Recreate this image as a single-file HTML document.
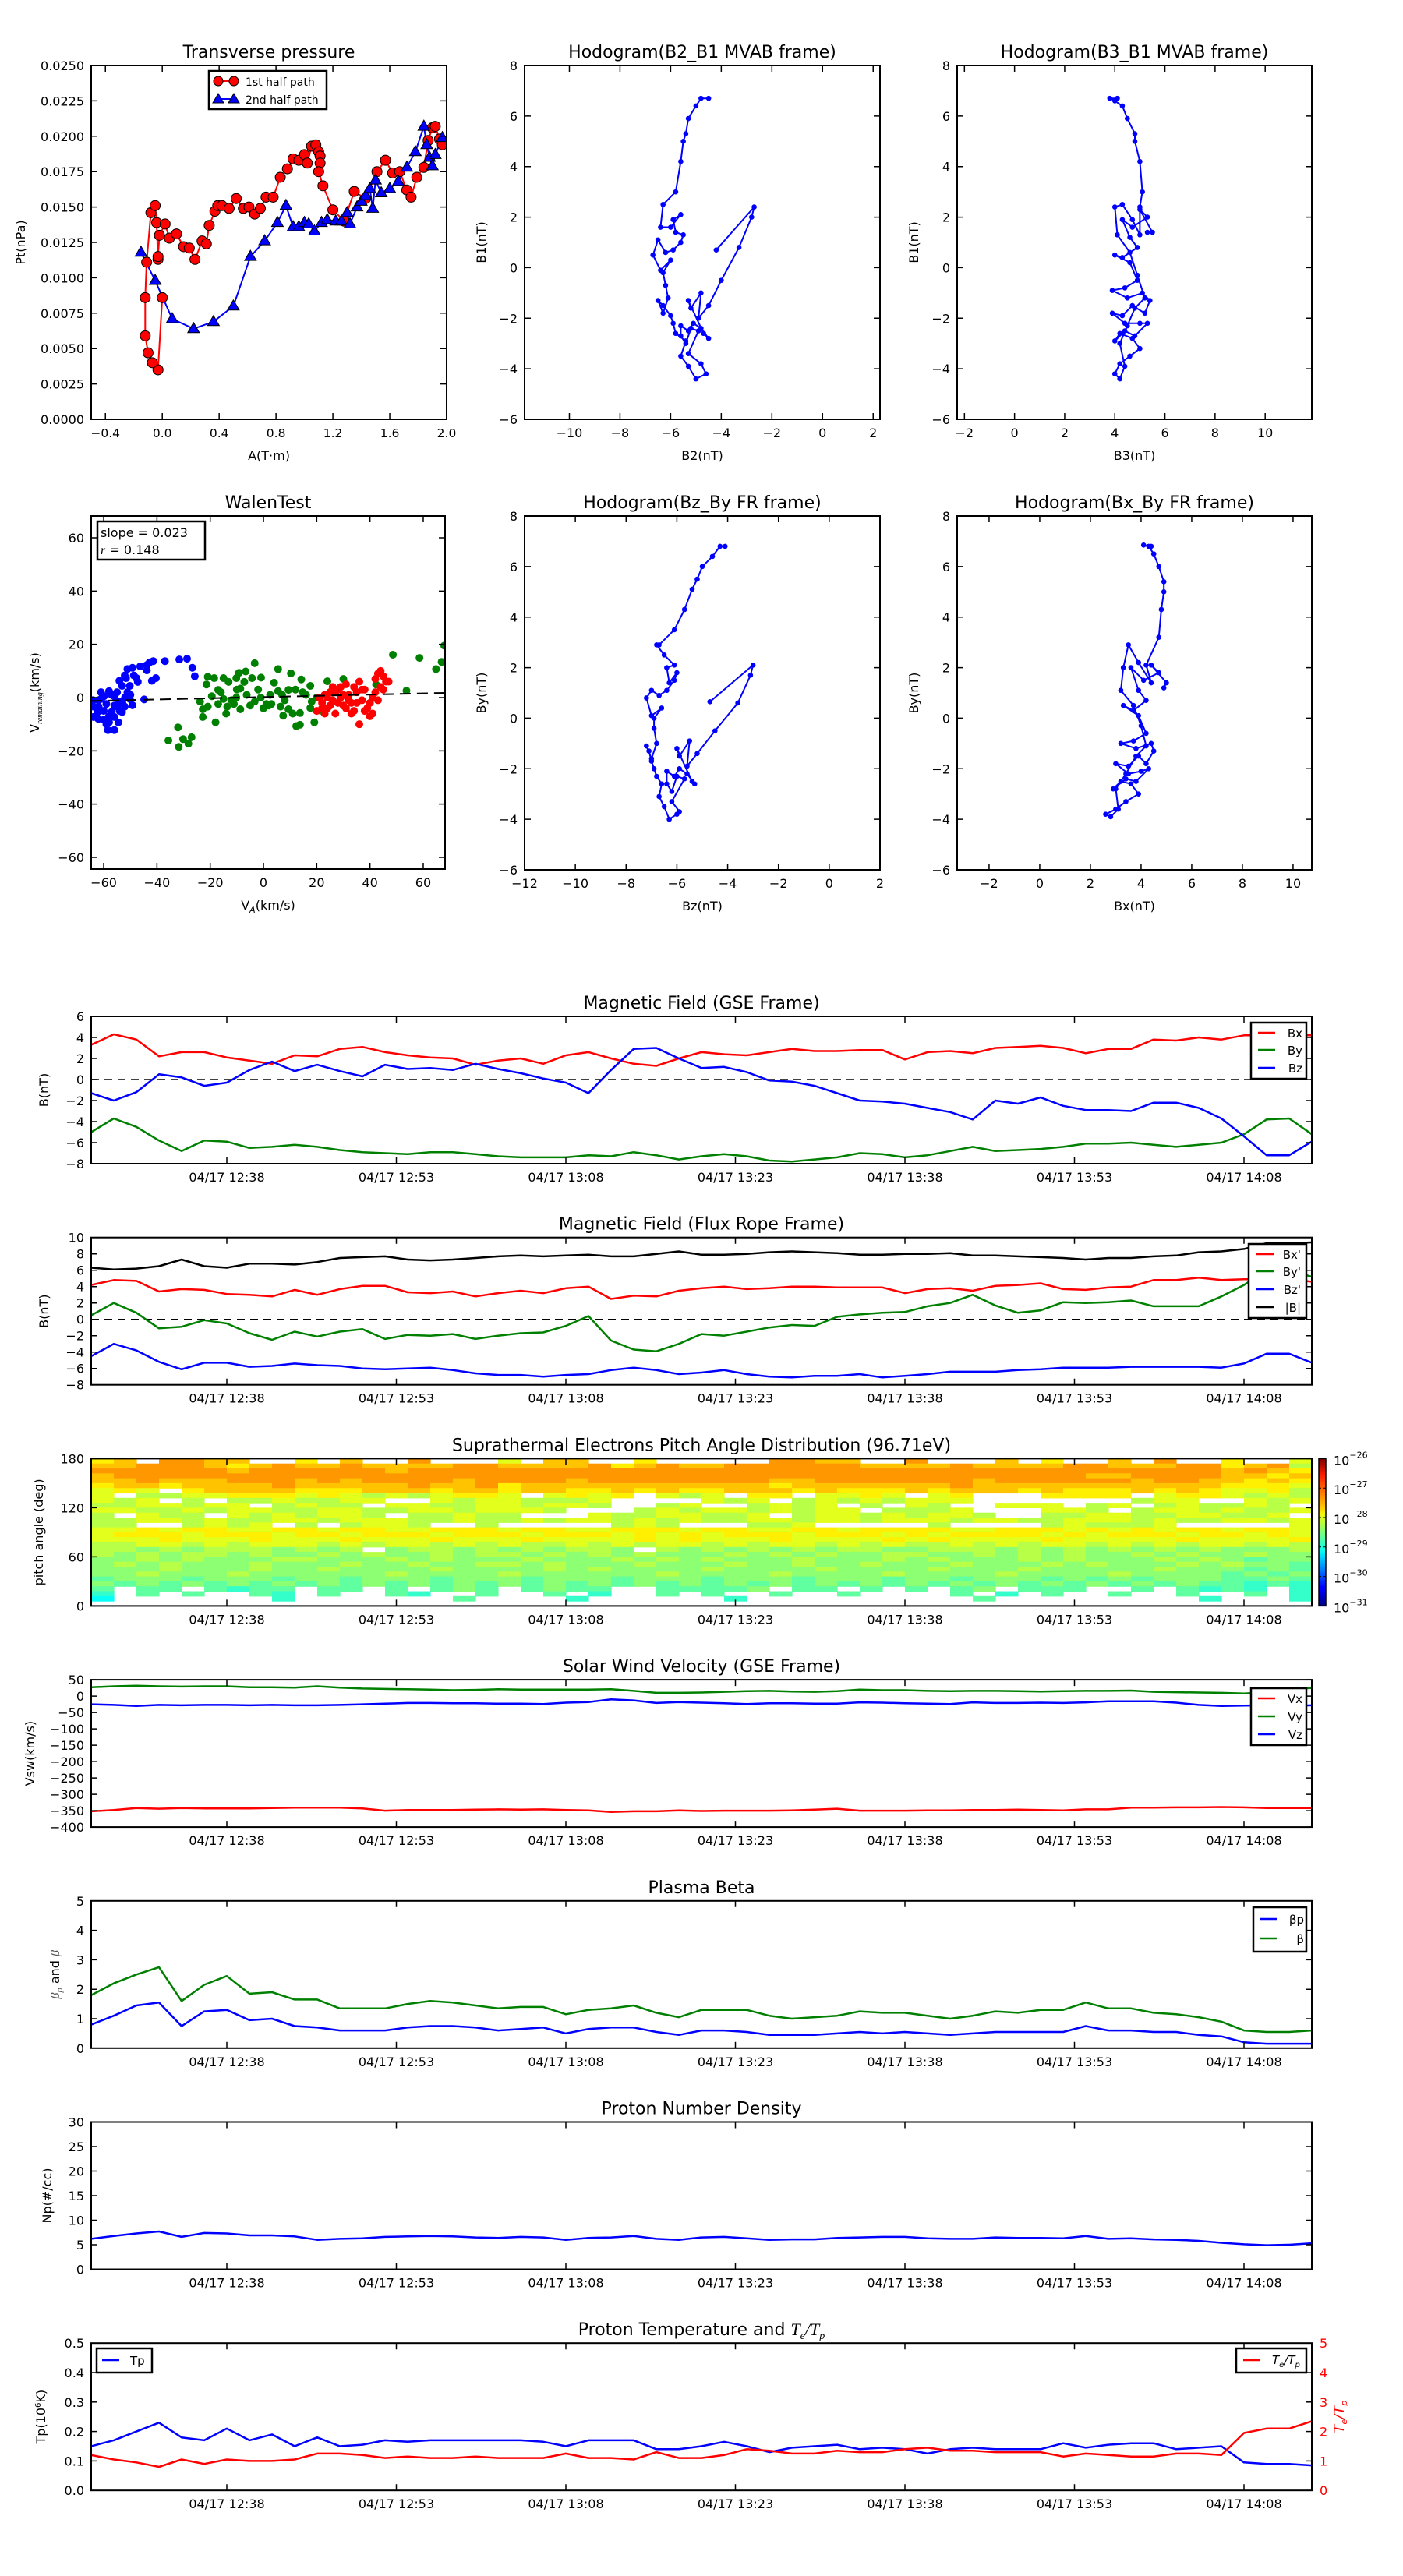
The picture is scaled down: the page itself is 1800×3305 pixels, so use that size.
<!DOCTYPE html>
<html><head><meta charset="utf-8"><title>Flux rope analysis</title>
<style>
html,body{margin:0;padding:0;background:#fff;}
svg text{font-family:"DejaVu Sans","Liberation Sans",sans-serif;fill:#000;}
</style></head>
<body>
<svg id="fig" xmlns="http://www.w3.org/2000/svg" width="1800" height="3300" viewBox="0 0 1800 3300">
<rect x="0" y="0" width="1800" height="3300" fill="#fff"/>
<defs>
<linearGradient id="jetgrad" x1="0" y1="1" x2="0" y2="0">
<stop offset="0" stop-color="#00007f"/><stop offset="0.11" stop-color="#0000ff"/><stop offset="0.125" stop-color="#0000ff"/>
<stop offset="0.34" stop-color="#00dcff"/><stop offset="0.375" stop-color="#07ffef"/><stop offset="0.5" stop-color="#7dff7a"/>
<stop offset="0.625" stop-color="#f4f802"/><stop offset="0.66" stop-color="#ffcf00"/><stop offset="0.89" stop-color="#ff1a00"/><stop offset="1" stop-color="#7f0000"/>
</linearGradient>
</defs>
</svg>
<script>
// ---------------- data ----------------
const ptRedA = [0.00,-0.03,-0.07,-0.10,-0.12,-0.12,-0.11,-0.08,-0.05,-0.04,-0.03,-0.03,-0.02,0.02,0.05,0.10,0.15,0.19,0.23,0.28,0.31,0.33,0.37,0.39,0.42,0.47,0.52,0.57,0.61,0.65,0.69,0.73,0.78,0.83,0.88,0.92,0.96,1.00,1.02,1.05,1.08,1.10,1.11,1.11,1.10,1.13,1.20,1.28,1.35,1.43,1.51,1.57,1.62,1.67,1.72,1.75,1.79,1.84,1.87,1.90,1.92,1.95,1.97];
const ptRedP = [0.0086,0.0035,0.0040,0.0047,0.0059,0.0086,0.0111,0.0146,0.0151,0.0139,0.0113,0.0115,0.0130,0.0138,0.0128,0.0131,0.0122,0.0121,0.0113,0.0126,0.0124,0.0137,0.0147,0.0151,0.0151,0.0149,0.0156,0.0149,0.0150,0.0145,0.0149,0.0157,0.0157,0.0171,0.0177,0.0184,0.0183,0.0187,0.0181,0.0193,0.0194,0.0189,0.0186,0.0181,0.0175,0.0165,0.0148,0.0140,0.0161,0.0156,0.0175,0.0183,0.0174,0.0175,0.0162,0.0157,0.0171,0.0178,0.0197,0.0206,0.0207,0.0198,0.0194];
const ptBlueA = [-0.15,-0.05,0.07,0.22,0.36,0.50,0.62,0.72,0.81,0.87,0.92,0.96,1.00,1.03,1.07,1.12,1.16,1.22,1.26,1.30,1.32,1.37,1.40,1.43,1.46,1.48,1.50,1.54,1.60,1.66,1.72,1.78,1.84,1.86,1.88,1.90,1.92,1.97];
const ptBlueP = [0.0118,0.0098,0.0071,0.0064,0.0069,0.0080,0.0115,0.0126,0.0139,0.0151,0.0136,0.0136,0.0139,0.0138,0.0133,0.0139,0.0141,0.0140,0.0140,0.0146,0.0138,0.0150,0.0154,0.0158,0.0163,0.0149,0.0169,0.0160,0.0163,0.0168,0.0178,0.0189,0.0207,0.0194,0.0185,0.0179,0.0187,0.0199];

const hodo1X = [-4.2,-2.7,-2.8,-3.3,-4.0,-4.5,-4.9,-4.8,-5.2,-5.3,-4.7,-4.5,-4.8,-5.1,-5.3,-5.6,-5.6,-5.4,-5.2,-4.9,-5.3,-4.8,-4.6,-5.0,-5.3,-5.6,-5.4,-5.8,-5.9,-6.0,-6.3,-6.5,-6.3,-6.1,-6.2,-6.3,-6.0,-6.4,-6.7,-6.5,-6.2,-5.9,-5.6,-5.5,-5.8,-5.9,-5.6,-6.0,-6.4,-6.3,-5.8,-5.6,-5.5,-5.4,-5.3,-5.0,-4.8,-4.5];
const hodo1Y = [0.7,2.4,2.0,0.8,-0.5,-1.5,-2.0,-1.0,-1.6,-1.3,-2.6,-2.8,-2.4,-2.2,-2.5,-2.3,-2.7,-3.0,-2.4,-2.5,-3.4,-3.8,-4.2,-4.4,-3.9,-3.5,-2.9,-2.6,-2.2,-1.9,-1.5,-1.3,-1.8,-1.2,-0.7,-0.2,0.3,-0.1,0.5,1.1,0.6,0.7,1.0,1.3,1.4,1.9,2.1,1.6,1.6,2.5,3.0,4.2,5.0,5.3,5.9,6.4,6.7,6.7];
const hodo3X = [5.3,5.5,5.0,5.3,4.7,4.3,4.6,4.9,4.3,4.0,4.6,4.9,4.4,3.9,4.5,5.1,5.4,5.2,4.7,4.3,3.9,4.4,5.0,5.3,4.8,4.4,4.0,4.2,4.7,5.0,4.6,4.2,4.0,4.2,4.4,4.2,4.5,4.8,5.2,4.9,4.6,4.1,4.0,4.3,4.7,5.0,5.0,5.1,5.0,4.8,4.8,4.5,4.3,4.0,3.8,4.1];
const hodo3Y = [1.4,1.4,2.3,2.0,1.6,1.9,1.2,0.8,0.4,0.5,0.2,-0.5,-0.8,-0.9,-1.2,-1.0,-1.3,-1.8,-1.5,-1.9,-1.8,-2.2,-2.2,-2.2,-2.7,-2.5,-2.9,-2.6,-2.8,-3.2,-3.5,-3.8,-4.2,-4.4,-3.9,-3.0,-2.3,-1.6,-1.2,-0.3,0.6,1.3,2.4,2.5,1.9,1.3,2.4,3.0,4.2,5.0,5.3,5.9,6.4,6.6,6.7,6.7];
const hodo2X = [-4.7,-3.0,-3.1,-3.6,-4.5,-5.2,-5.6,-5.5,-5.9,-6.0,-5.4,-5.3,-5.6,-5.9,-6.1,-6.4,-6.4,-6.2,-6.0,-5.7,-6.2,-5.9,-6.0,-6.3,-6.5,-6.7,-6.6,-6.8,-6.9,-7.0,-7.1,-7.2,-7.0,-6.8,-6.9,-6.9,-6.6,-7.0,-7.2,-7.0,-6.7,-6.4,-6.1,-6.0,-6.3,-6.4,-6.1,-6.5,-6.8,-6.7,-6.1,-5.7,-5.4,-5.2,-5.0,-4.6,-4.3,-4.1];
const hodo2Y = [0.65,2.1,1.7,0.6,-0.5,-1.4,-1.9,-0.9,-1.5,-1.2,-2.5,-2.6,-2.2,-2.0,-2.3,-2.1,-2.6,-2.9,-2.3,-2.4,-3.3,-3.7,-3.8,-4.0,-3.5,-3.1,-2.6,-2.3,-2.0,-1.7,-1.3,-1.1,-1.6,-1.0,-0.4,0.0,0.4,0.1,0.8,1.1,0.9,1.1,1.5,1.8,1.4,2.0,2.1,2.5,2.9,2.9,3.5,4.3,5.1,5.5,6.0,6.4,6.8,6.8];
const hodo4X = [4.9,5.0,4.4,4.7,4.1,3.6,3.9,4.2,3.7,3.3,3.9,4.2,3.7,3.2,3.8,4.4,4.5,4.2,3.9,3.5,3.0,3.5,4.0,4.3,3.8,3.4,2.9,3.2,3.6,3.9,3.4,3.0,2.6,2.8,3.1,3.0,3.4,3.8,4.2,4.0,3.7,3.2,3.3,3.5,3.9,4.4,4.2,4.7,4.8,4.9,4.9,4.7,4.5,4.3,4.1,4.4];
const hodo4Y = [1.2,1.4,2.1,1.8,1.5,2.0,1.1,0.7,0.3,0.5,0.1,-0.6,-0.9,-1.0,-1.2,-1.0,-1.3,-1.8,-1.5,-1.9,-1.8,-2.2,-2.1,-2.0,-2.5,-2.4,-2.8,-2.5,-2.6,-3.0,-3.3,-3.6,-3.8,-3.9,-3.6,-2.8,-2.2,-1.5,-1.1,-0.3,0.5,1.1,2.0,2.9,2.2,1.4,2.1,3.2,4.3,5.0,5.4,6.0,6.5,6.8,6.85,6.8];

const walenBlueVA = [-63.8,-61.9,-59.9,-58.0,-56.0,-54.1,-52.1,-50.2,-49.2,-51.1,-53.1,-54.1,-52.1,-51.1,-49.2,-47.7,-47.2,-46.3,-43.8,-42.8,-41.4,-43.8,-41.9,-40.4,-37.0,-31.6,-28.7,-26.7,-25.8,-44.8,-58.4,-56.0,-54.5,-59.9,-62.3,-57.0,-59.0,-55.0,-60.9,-53.1,-50.2,-48.7,-51.6,-63.8,-58.0,-56.0,-62,-60,-58,-56,-54,-61,-57,-55,-53,-59,-64,-62,-52,-50];
const walenBlueVR = [-7.3,-3.4,0.5,2.4,0.5,-1.5,-3.4,-0.5,-2.9,2.0,4.4,6.3,8.3,10.7,11.2,7.3,5.9,11.7,12.2,13.2,13.7,10.2,6.3,7.3,13.7,14.3,14.6,11.2,8.0,-0.7,-12.2,-12.2,-9.3,-8.3,-5.4,-5.4,-2.4,-3.4,-0.5,-5.4,4.4,8.3,7.3,-3.4,-9.3,-7.3,-1,-5,-7,-3,-5,2,1,2,-2,-10,-1,-8,0,1];
const walenGreenVA = [-23.8,-21.4,-20.9,-18.5,-15.0,-13.1,-10.2,-9.2,-6.7,-3.3,-0.9,-4.3,-7.2,-8.7,-17.0,-19.4,-22.8,-22.8,-18.0,-20.9,-17.0,-15.0,-13.6,-11.1,-8.7,-10.2,-6.3,-3.3,1.1,3.0,2.5,5.5,7.0,9.4,5.5,10.3,4.0,6.4,7.4,9.4,12.3,13.7,14.2,14.7,17.6,18.1,17.6,19.1,13.7,21.5,24.0,25.9,30.0,42.3,48.6,53.7,58.6,64.8,66.9,67.9,-35.7,-32.1,-31.8,-30.2,-28.2,-27.0,-14,-12,-5,-1,0,2,8,11,16,-16,-10,-2,20,12];
const walenGreenVR = [-1.5,4.9,7.8,7.3,7.3,5.9,7.3,9.3,9.8,12.9,7.5,7.3,5.9,3.4,2.9,0.5,-4.4,-7.3,-9.3,-3.4,-2.4,-0.5,-3.4,-2.4,-4.4,0.0,1.0,-1.5,-2.4,-2.4,1.0,2.4,1.0,2.9,10.7,9.1,5.6,-3.4,-6.8,-4.4,-10.7,-10.2,6.8,2.0,4.4,-1.5,-3.9,-9.3,-5.8,-4.9,6.1,2.9,7.0,4.9,16.1,2.6,14.9,10.7,13.4,19.5,-16.1,-11.2,-18.5,-15.6,-17.3,-14.9,-6,-1,-3,0,-4,-3,-1,-6,1,2,3,3,0,3];
const walenRedVA = [20,22,23,24,25,26,27,28,29,30,31,32,33,34,35,36,37,38,39,40,41,42,43,44,45,46,44,42,43,41,40,36,33,31,29,27,25,24,23,26,30,32,35,37,38,34,28,22,21,47,45];
const walenRedVR = [-5,-2,1,-4,2,-1,-6,3,0,-3,5,1,-2,-5,2,6,-1,3,-4,-2,0,7,9,10,8,6,4,2,-1,-6,-7,-10,-6,-4,4,2,-3,0,-6,4,1,-1,-2,3,-5,4,-2,-4,0,6,3];
const walenSlope = 0.023;
const walenIntercept = 0.2;

const timeTickMinutes = [12,27,42,57,72,87,102];
const timeTickLabels = ['04/17 12:38','04/17 12:53','04/17 13:08','04/17 13:23','04/17 13:38','04/17 13:53','04/17 14:08'];
const sampleStepMin = 2;

const gseBx = [3.3,4.3,3.8,2.2,2.6,2.6,2.1,1.8,1.5,2.3,2.2,2.9,3.1,2.6,2.3,2.1,2.0,1.4,1.8,2.0,1.5,2.3,2.6,2.0,1.5,1.3,2.0,2.6,2.4,2.3,2.6,2.9,2.7,2.7,2.8,2.8,1.9,2.6,2.7,2.5,3.0,3.1,3.2,3.0,2.5,2.9,2.9,3.8,3.7,4.0,3.8,4.2,4.2,4.2,4.2];
const gseBy = [-5.0,-3.7,-4.5,-5.8,-6.8,-5.8,-5.9,-6.5,-6.4,-6.2,-6.4,-6.7,-6.9,-7.0,-7.1,-6.9,-6.9,-7.1,-7.3,-7.4,-7.4,-7.4,-7.2,-7.3,-6.9,-7.2,-7.6,-7.3,-7.1,-7.3,-7.7,-7.8,-7.6,-7.4,-7.0,-7.1,-7.4,-7.2,-6.8,-6.4,-6.8,-6.7,-6.6,-6.4,-6.1,-6.1,-6.0,-6.2,-6.4,-6.2,-6.0,-5.2,-3.8,-3.7,-5.2];
const gseBz = [-1.3,-2.0,-1.2,0.5,0.2,-0.6,-0.3,0.9,1.7,0.8,1.4,0.8,0.3,1.4,1.0,1.1,0.9,1.5,1.0,0.6,0.1,-0.3,-1.3,0.9,2.9,3.0,2.0,1.1,1.2,0.7,-0.1,-0.2,-0.6,-1.3,-2.0,-2.1,-2.3,-2.7,-3.1,-3.8,-2.0,-2.3,-1.7,-2.5,-2.9,-2.9,-3.0,-2.2,-2.2,-2.7,-3.7,-5.4,-7.2,-7.2,-5.9];

const frBx = [4.2,4.8,4.7,3.4,3.7,3.6,3.1,3.0,2.8,3.6,3.0,3.7,4.1,4.1,3.3,3.2,3.4,2.8,3.2,3.5,3.2,3.8,4.0,2.5,2.9,2.8,3.5,3.8,4.0,3.7,3.8,4.0,4.0,3.9,3.9,3.9,3.2,3.7,3.8,3.5,4.1,4.2,4.4,3.7,3.6,3.9,4.0,4.8,4.8,5.1,4.8,4.9,4.9,4.9,4.6];
const frBy = [0.5,2.0,0.8,-1.1,-0.9,-0.1,-0.5,-1.7,-2.5,-1.5,-2.1,-1.5,-1.2,-2.4,-1.9,-2.0,-1.8,-2.4,-2.0,-1.7,-1.6,-0.8,0.4,-2.6,-3.7,-3.9,-3.0,-1.8,-2.0,-1.5,-1.0,-0.7,-0.8,0.3,0.6,0.8,0.9,1.6,2.0,3.0,1.7,0.8,1.1,2.1,2.0,2.1,2.3,1.6,1.6,1.6,2.8,4.2,6.0,6.0,5.2];
const frBz = [-4.5,-3.0,-3.8,-5.2,-6.1,-5.3,-5.3,-5.8,-5.7,-5.4,-5.6,-5.7,-6.0,-6.1,-6.0,-5.9,-6.2,-6.6,-6.8,-6.8,-7.0,-6.8,-6.7,-6.2,-5.9,-6.2,-6.7,-6.5,-6.2,-6.7,-7.0,-7.1,-6.9,-6.9,-6.7,-7.1,-6.9,-6.7,-6.4,-6.4,-6.4,-6.2,-6.1,-5.9,-5.9,-5.9,-5.8,-5.8,-5.8,-5.8,-5.9,-5.4,-4.2,-4.2,-5.3];
const frBt = [6.3,6.1,6.2,6.5,7.3,6.5,6.3,6.8,6.8,6.7,7.0,7.5,7.6,7.7,7.3,7.2,7.3,7.5,7.7,7.8,7.7,7.8,7.9,7.7,7.7,8.0,8.3,7.9,7.9,8.0,8.2,8.3,8.2,8.1,7.9,7.9,8.0,8.0,8.1,7.8,7.8,7.7,7.6,7.5,7.3,7.5,7.5,7.7,7.8,8.2,8.3,8.6,9.3,9.3,9.4];

// pitch angle distribution: rows from 180 deg down to 0 deg (6 deg bins), 2-min columns; '.'=no data, digits = log flux level
const padRows = [
"78.9988.. 7.8..9... 6.88..7.. ...9988.. 9...8.7.. 8.9..7..6",
"889998789 889888899 888897898 899999988 889888899 888997895",
"999999899 999989999 999999999 999999999 999999999 999998987",
"899999999 999999999 999999999 999999999 999999998 899998878",
"889888999 898999989 999899999 999889999 999899999 989988787",
"788788889 888889889 788888888 888788888 889888888 888887776",
"676.78888 777888788 788778787 788878777 878887877 787876675",
"6.5566777 676565677 6.6767.65 6.77.6676 .67...777 7.6776565",
"656.5.556 5566..656 65556.... 656.56565 666...... .566..656",
"5566566.5 655.66556 65665..56 ..5656.5. 65..666.5 6.565565.",
"665565665 566556656 665...565 6656566.5 556...665 .56656556",
"5.655.656 5665.5565 5...65566 556.56656 5665..556 65566556.",
"556656556 656665565 565665656 556656656 665665566 656556656",
"55..5656. 5.5665..5 .....565. ..556.... .5....565 556.....6",
"667677667 767766777 677667776 776677677 776677767 676776776",
"677767776 776777677 767776767 677767776 767777676 777677676",
"666766676 667666766 676666767 666766667 676666766 666766667",
"556656566 656566565 655656566 565665656 556565665 656566565",
"554545554 545.45545 454554.54 545454554 455545454 545454445",
"545455454 454544545 545454544 454545445 544545454 454544544",
"445454445 544454544 454445454 544454445 454445454 445454344",
"454544454 445445445 545444544 454454454 445444545 444545443",
"444544454 454444544 445454444 544445444 454445444 445444343",
"445444544 444454444 544444454 444544445 444454444 544443434",
"344434443 443444344 434443444 344434443 443444343 434443343",
"434343434 343434343 434343434 343434343 434343434 343433232",
"3.33.3233 .33.3.343 .3433..33 334.33.3. 3.34.333. .3.3232.2",
"2.3.3..32 .3..32..3 ..3.2..3. 3..3..3.. ..3.2.3.. 3..3..3.2",
"1.......2 .......3. ...2..... .2....... ...3..... ....2...2",
"......... ......... ......... ......... ......... ........."
];

const vswVx = [-352,-348,-342,-344,-342,-343,-343,-343,-342,-341,-341,-341,-343,-350,-348,-348,-348,-347,-346,-347,-346,-348,-349,-354,-352,-352,-349,-351,-350,-350,-350,-349,-347,-344,-350,-350,-350,-349,-349,-348,-348,-347,-348,-349,-346,-346,-341,-341,-340,-340,-339,-340,-342,-342,-342];
const vswVy = [27,30,32,30,29,30,30,27,27,26,30,26,23,22,21,20,18,19,21,20,20,20,20,21,16,10,10,11,13,15,16,14,13,15,20,18,18,16,15,16,16,15,14,15,16,16,17,13,12,11,10,8,12,20,25];
const vswVz = [-25,-27,-30,-27,-28,-27,-27,-28,-27,-28,-28,-27,-25,-23,-21,-21,-22,-22,-23,-23,-24,-20,-18,-10,-13,-21,-18,-20,-22,-24,-22,-22,-23,-23,-19,-20,-22,-23,-24,-19,-21,-21,-20,-21,-19,-16,-16,-16,-20,-27,-30,-29,-28,-30,-28];

const betaTotal = [1.8,2.2,2.5,2.75,1.6,2.15,2.45,1.85,1.9,1.65,1.65,1.35,1.35,1.35,1.5,1.6,1.55,1.45,1.35,1.4,1.4,1.15,1.3,1.35,1.45,1.2,1.05,1.3,1.3,1.3,1.1,1.0,1.05,1.1,1.25,1.2,1.2,1.1,1.0,1.1,1.25,1.2,1.3,1.3,1.55,1.35,1.35,1.2,1.15,1.05,0.9,0.6,0.55,0.55,0.6];
const betaProton = [0.8,1.1,1.45,1.55,0.75,1.25,1.3,0.95,1.0,0.75,0.7,0.6,0.6,0.6,0.7,0.75,0.75,0.7,0.6,0.65,0.7,0.5,0.65,0.7,0.7,0.55,0.45,0.6,0.6,0.55,0.45,0.45,0.45,0.5,0.55,0.5,0.55,0.5,0.45,0.5,0.55,0.55,0.55,0.55,0.75,0.6,0.6,0.55,0.55,0.45,0.4,0.2,0.15,0.15,0.15];

const protonDensity = [6.2,6.8,7.3,7.7,6.6,7.4,7.3,6.9,6.9,6.7,6.0,6.2,6.3,6.6,6.7,6.8,6.7,6.5,6.4,6.6,6.5,6.0,6.4,6.5,6.8,6.2,6.0,6.5,6.6,6.3,6.0,6.1,6.1,6.4,6.5,6.6,6.6,6.3,6.2,6.2,6.5,6.4,6.4,6.3,6.8,6.2,6.3,6.1,6.0,5.8,5.4,5.1,4.9,5.0,5.3];

const protonTemp = [0.15,0.17,0.2,0.23,0.18,0.17,0.21,0.17,0.19,0.15,0.18,0.15,0.155,0.17,0.165,0.17,0.17,0.17,0.17,0.17,0.165,0.15,0.17,0.17,0.17,0.14,0.14,0.15,0.165,0.15,0.13,0.145,0.15,0.155,0.14,0.145,0.14,0.125,0.14,0.145,0.14,0.14,0.14,0.16,0.145,0.155,0.16,0.16,0.14,0.145,0.15,0.095,0.09,0.09,0.085];
const tempRatio = [1.2,1.05,0.95,0.8,1.05,0.9,1.05,1.0,1.0,1.05,1.25,1.25,1.2,1.1,1.15,1.1,1.1,1.15,1.1,1.1,1.1,1.25,1.1,1.1,1.05,1.3,1.1,1.1,1.2,1.4,1.35,1.25,1.25,1.35,1.3,1.3,1.4,1.45,1.35,1.35,1.3,1.3,1.3,1.15,1.25,1.2,1.15,1.15,1.25,1.25,1.2,1.95,2.1,2.1,2.35];

// ---------------- drawing ----------------
const NS = 'http://www.w3.org/2000/svg';
const svg = document.getElementById('fig');
let clipId = 0;
function mk(tag, attrs, parent, txt) {
  const e = document.createElementNS(NS, tag);
  for (const k in attrs) e.setAttribute(k, attrs[k]);
  if (txt !== undefined) e.textContent = txt;
  (parent || svg).appendChild(e);
  return e;
}
function P(x0, y0, w, h, xmin, xmax, ymin, ymax) {
  return {x0, y0, w, h, xmin, xmax, ymin, ymax,
    sx: v => x0 + (v - xmin) / (xmax - xmin) * w,
    sy: v => y0 + h - (v - ymin) / (ymax - ymin) * h};
}
function fmt(v, d) { const s = Math.abs(v).toFixed(d); return (v < 0 ? '\u2212' : '') + s; }

function makePanel(p, nm, title) {
  const g = mk('g', {});
  
  
  const cp = mk('clipPath', {id: 'clip' + (++clipId)}, g);
  mk('rect', {x: p.x0, y: p.y0, width: p.w, height: p.h}, cp);
  const plot = mk('g', {'clip-path': 'url(#clip' + clipId + ')'}, g);
  
  
  const t = mk('text', {x: p.x0 + p.w / 2, y: p.y0 - 10, 'text-anchor': 'middle', 'font-size': 22}, g, title);
  
  
  return {g, plot};
}
function frame(p, g, nm) {
  const r = mk('rect', {x: p.x0, y: p.y0, width: p.w, height: p.h, fill: 'none', stroke: '#000', 'stroke-width': 2}, g);
  
  
}
function xTicks(p, g, vals, labels, nm, fs) {
  vals.forEach((v, i) => {
    const x = p.sx(v);
    const tk = mk('path', {d: `M${x},${p.y0 + p.h}v-8M${x},${p.y0}v8`, stroke: '#000', 'stroke-width': 1.5}, g);
    
    
    const t = mk('text', {x: x, y: p.y0 + p.h + 23, 'text-anchor': 'middle', 'font-size': fs || 15.5}, g, labels[i]);
    
    
  });
}
function yTicks(p, g, vals, labels, nm, noRight) {
  vals.forEach((v, i) => {
    const y = p.sy(v);
    const d = noRight ? `M${p.x0},${y}h8` : `M${p.x0},${y}h8M${p.x0 + p.w},${y}h-8`;
    const tk = mk('path', {d: d, stroke: '#000', 'stroke-width': 1.5}, g);
    
    
    const t = mk('text', {x: p.x0 - 9, y: y + 6, 'text-anchor': 'end', 'font-size': 16}, g, labels[i]);
    
    
  });
}
function axisLabelX(p, g, txt, nm) {
  const t = mk('text', {x: p.x0 + p.w / 2, y: p.y0 + p.h + 52, 'text-anchor': 'middle', 'font-size': 16}, g, txt);
  
  
  return t;
}
function axisLabelY(p, g, txt, nm, x) {
  const cy = p.y0 + p.h / 2;
  const t = mk('text', {x: x, y: cy, 'text-anchor': 'middle', 'font-size': 16, transform: `rotate(-90 ${x} ${cy})`}, g, txt);
  
  
  return t;
}
function polyline(p, g, xs, ys, color, nm, w) {
  const pts = xs.map((x, i) => p.sx(x).toFixed(1) + ',' + p.sy(ys[i]).toFixed(1)).join(' ');
  const l = mk('polyline', {points: pts, fill: 'none', stroke: color, 'stroke-width': w || 2.5, 'stroke-linejoin': 'round'}, g);
  
  
  return l;
}
function range(a, b, s) { const r = []; for (let v = a; v <= b + 1e-9; v += s) r.push(+v.toFixed(6)); return r; }
function legendBox(x, y, w, h, g, nm) {
  const r = mk('rect', {x, y, width: w, height: h, fill: '#fff', stroke: '#000', 'stroke-width': 2.5}, g);
  
  
}
function legendEntry(g, x, y, color, label, nm) {
  const l = mk('line', {x1: x, y1: y, x2: x + 22, y2: y, stroke: color, 'stroke-width': 2.5}, g);
  
  
  const t = mk('text', {x: x + 57, y: y + 6, 'text-anchor': 'end', 'font-size': 15}, g, label);
  
  
  return t;
}

// ---------- Row 1/2 scatter panels ----------
const C1 = 117, C2 = 673, C3 = 1228, CW = 455, R1 = 84, R2 = 662, RH = 454;

// Transverse pressure
(function () {
  const p = P(C1, R1, 456, RH, -0.5, 2.0, 0, 0.025);
  const {g, plot} = makePanel(p, 'transverse-pressure-panel', 'Transverse pressure');
  polyline(p, plot, ptRedA, ptRedP, '#ff0000', 'first-half-path-line', 2);
  polyline(p, plot, ptBlueA, ptBlueP, '#0000ff', 'second-half-path-line', 2);
  ptRedA.forEach((a, i) => {
    const c = mk('circle', {cx: p.sx(a), cy: p.sy(ptRedP[i]), r: 6.5, fill: '#ff0000', stroke: '#000', 'stroke-width': 1}, plot);
    
    
  });
  ptBlueA.forEach((a, i) => {
    const x = p.sx(a), y = p.sy(ptBlueP[i]);
    const t = mk('path', {d: `M${x},${y - 8}L${x + 7.5},${y + 5}L${x - 7.5},${y + 5}Z`, fill: '#0000ff', stroke: '#000', 'stroke-width': 1}, plot);
    
    
  });
  frame(p, g, 'transverse-pressure');
  xTicks(p, g, range(-0.4, 2.0, 0.4), range(-0.4, 2.0, 0.4).map(v => fmt(v, 1)), 'transverse-pressure');
  yTicks(p, g, range(0, 0.025, 0.0025), range(0, 0.025, 0.0025).map(v => fmt(v, 4)), 'transverse-pressure');
  axisLabelX(p, g, 'A(T\u00b7m)', 'transverse-pressure');
  axisLabelY(p, g, 'Pt(nPa)', 'transverse-pressure', 32);
  legendBox(268, 91, 151, 49, g, 'pressure-legend');
  const l1 = mk('line', {x1: 280, y1: 104, x2: 300, y2: 104, stroke: '#ff0000', 'stroke-width': 2}, g);
  
  
  [280, 300].forEach(x => {
    const c = mk('circle', {cx: x, cy: 104, r: 6, fill: '#ff0000', stroke: '#000', 'stroke-width': 1}, g);
    
    
  });
  const t1 = mk('text', {x: 315, y: 110, 'font-size': 14}, g, '1st half path');
  
  
  const l2 = mk('line', {x1: 280, y1: 127, x2: 300, y2: 127, stroke: '#0000ff', 'stroke-width': 2}, g);
  
  
  [280, 300].forEach(x => {
    const tr = mk('path', {d: `M${x},${120}L${x + 7},${132}L${x - 7},${132}Z`, fill: '#0000ff', stroke: '#000', 'stroke-width': 1}, g);
    
    
  });
  const t2 = mk('text', {x: 315, y: 133, 'font-size': 14}, g, '2nd half path');
  
  
})();

function hodogram(p, xs, ys, nm, title, xlab, ylab, xt, yt) {
  const {g, plot} = makePanel(p, nm, title);
  polyline(p, plot, xs, ys, '#0000ff', nm + '-path', 2);
  xs.forEach((x, i) => {
    const c = mk('circle', {cx: p.sx(x), cy: p.sy(ys[i]), r: 3.3, fill: '#0000ff'}, plot);
    
    
  });
  frame(p, g, nm);
  xTicks(p, g, xt, xt.map(v => fmt(v, 0)), nm, 16);
  yTicks(p, g, yt, yt.map(v => fmt(v, 0)), nm);
  axisLabelX(p, g, xlab, nm);
  axisLabelY(p, g, ylab, nm, p.x0 - 50);
}
hodogram(P(C2, R1, 456, RH, -11.77, 2.27, -6, 8), hodo1X, hodo1Y, 'hodogram-b2-b1', 'Hodogram(B2_B1 MVAB frame)', 'B2(nT)', 'B1(nT)', range(-10, 2, 2), range(-6, 8, 2));
hodogram(P(C3, R1, 455, RH, -2.29, 11.86, -6, 8), hodo3X, hodo3Y, 'hodogram-b3-b1', 'Hodogram(B3_B1 MVAB frame)', 'B3(nT)', 'B1(nT)', range(-2, 10, 2), range(-6, 8, 2));
hodogram(P(C2, R2, 456, RH, -12, 2, -6, 8), hodo2X, hodo2Y, 'hodogram-bz-by', 'Hodogram(Bz_By FR frame)', 'Bz(nT)', 'By(nT)', range(-12, 2, 2), range(-6, 8, 2));
hodogram(P(C3, R2, 455, RH, -3.26, 10.74, -6, 8), hodo4X, hodo4Y, 'hodogram-bx-by', 'Hodogram(Bx_By FR frame)', 'Bx(nT)', 'By(nT)', range(-2, 10, 2), range(-6, 8, 2));

// Walen test
(function () {
  const p = P(C1, R2, 454, 453, -64.7, 68.2, -64.4, 68.2);
  const {g, plot} = makePanel(p, 'walen-test-panel', 'WalenTest');
  const groups = [[walenBlueVA, walenBlueVR, '#0000ff', 'walen-blue-point'], [walenGreenVA, walenGreenVR, '#008000', 'walen-green-point'], [walenRedVA, walenRedVR, '#ff0000', 'walen-red-point']];
  groups.forEach(([xs, ys, col, nm]) => {
    xs.forEach((x, i) => {
      const c = mk('circle', {cx: p.sx(x), cy: p.sy(ys[i]), r: 5, fill: col}, plot);
      
      
    });
  });
  const fl = mk('line', {x1: p.sx(p.xmin), y1: p.sy(walenSlope * p.xmin + walenIntercept), x2: p.sx(p.xmax), y2: p.sy(walenSlope * p.xmax + walenIntercept), stroke: '#000', 'stroke-width': 2, 'stroke-dasharray': '14 8'}, plot);
  
  
  frame(p, g, 'walen-test');
  xTicks(p, g, range(-60, 60, 20), range(-60, 60, 20).map(v => fmt(v, 0)), 'walen-test', 16);
  yTicks(p, g, range(-60, 60, 20), range(-60, 60, 20).map(v => fmt(v, 0)), 'walen-test');
  const xl = axisLabelX(p, g, '', 'walen-test');
  mk('tspan', {}, xl, 'V');
  mk('tspan', {'font-size': 11, dy: 4, 'font-style': 'italic'}, xl, 'A');
  mk('tspan', {dy: -4}, xl, '(km/s)');
  const yl = axisLabelY(p, g, '', 'walen-test', 50);
  mk('tspan', {}, yl, 'V');
  mk('tspan', {'font-size': 10, dy: 4, 'font-style': 'italic', 'font-family': 'Liberation Serif, serif'}, yl, 'remaining');
  mk('tspan', {dy: -4}, yl, '(km/s)');
  legendBox(125, 669, 138, 49, g, 'walen-stats-box');
  const s1 = mk('text', {x: 129, y: 689, 'font-size': 16}, g, 'slope = 0.023');
  
  
  const s2 = mk('text', {x: 129, y: 711, 'font-size': 16}, g, '');
  
  
  mk('tspan', {'font-style': 'italic', 'font-family': 'Liberation Serif, serif'}, s2, 'r');
  mk('tspan', {}, s2, ' = 0.148');
})();

// ---------- time series panels ----------
const TS_TOP = 1304, TS_STEP = 283.7, TS_H = 189;
function tsPanel(i, ymin, ymax) { return P(117, TS_TOP + TS_STEP * i, 1566, TS_H, 0, 108, ymin, ymax); }
function tsX(vals) { return vals.map((v, i) => i * sampleStepMin); }
function timeAxes(p, g, nm, yt, ylabels, noRight) {
  frame(p, g, nm);
  xTicks(p, g, timeTickMinutes, timeTickLabels, nm, 16);
  yTicks(p, g, yt, ylabels, nm, noRight);
}
function zeroLine(p, g, nm) {
  const l = mk('line', {x1: p.x0, x2: p.x0 + p.w, y1: p.sy(0), y2: p.sy(0), stroke: '#000', 'stroke-width': 1.5, 'stroke-dasharray': '10 7'}, g);
  
  
}

// GSE
(function () {
  const p = tsPanel(0, -8, 6);
  const {g, plot} = makePanel(p, 'gse-field-panel', 'Magnetic Field (GSE Frame)');
  zeroLine(p, plot, 'gse-zero-line');
  polyline(p, plot, tsX(gseBx), gseBx, '#ff0000', 'gse-bx-line');
  polyline(p, plot, tsX(gseBy), gseBy, '#008000', 'gse-by-line');
  polyline(p, plot, tsX(gseBz), gseBz, '#0000ff', 'gse-bz-line');
  timeAxes(p, g, 'gse-field', range(-8, 6, 2), range(-8, 6, 2).map(v => fmt(v, 0)));
  axisLabelY(p, g, 'B(nT)', 'gse-field', 62);
  legendBox(1605, 1312, 71, 72, g, 'gse-legend');
  legendEntry(g, 1614, 1325, '#ff0000', 'Bx', 'gse-legend-bx');
  legendEntry(g, 1614, 1347, '#008000', 'By', 'gse-legend-by');
  legendEntry(g, 1614, 1370, '#0000ff', 'Bz', 'gse-legend-bz');
})();

// Flux rope frame
(function () {
  const p = tsPanel(1, -8, 10);
  const {g, plot} = makePanel(p, 'fr-field-panel', 'Magnetic Field (Flux Rope Frame)');
  zeroLine(p, plot, 'fr-zero-line');
  polyline(p, plot, tsX(frBt), frBt, '#000000', 'fr-btotal-line');
  polyline(p, plot, tsX(frBx), frBx, '#ff0000', 'fr-bx-line');
  polyline(p, plot, tsX(frBy), frBy, '#008000', 'fr-by-line');
  polyline(p, plot, tsX(frBz), frBz, '#0000ff', 'fr-bz-line');
  timeAxes(p, g, 'fr-field', range(-8, 10, 2), range(-8, 10, 2).map(v => fmt(v, 0)));
  axisLabelY(p, g, 'B(nT)', 'fr-field', 62);
  legendBox(1602, 1596, 74, 95, g, 'fr-legend');
  legendEntry(g, 1612, 1609, '#ff0000', "Bx'", 'fr-legend-bx');
  legendEntry(g, 1612, 1631, '#008000', "By'", 'fr-legend-by');
  legendEntry(g, 1612, 1654, '#0000ff', "Bz'", 'fr-legend-bz');
  legendEntry(g, 1612, 1677, '#000000', '|B|', 'fr-legend-bt');
})();

// Pitch angle distribution
function jet(v) {
  const c = x => Math.max(0, Math.min(1, x));
  const r = c(1.5 - Math.abs(4 * v - 3)), gg = c(1.5 - Math.abs(4 * v - 2)), b = c(1.5 - Math.abs(4 * v - 1));
  return `rgb(${Math.round(r * 255)},${Math.round(gg * 255)},${Math.round(b * 255)})`;
}
(function () {
  const p = P(117, TS_TOP + TS_STEP * 2, 1566, TS_H, 0, 108, 0, 180);
  const {g, plot} = makePanel(p, 'pad-panel', 'Suprathermal Electrons Pitch Angle Distribution (96.71eV)');
  const binDeg = 180 / padRows.length;
  padRows.forEach((row, r) => {
    const cells = row.replace(/ /g, '');
    for (let c = 0; c < cells.length; c++) {
      const ch = cells[c];
      if (ch === '.') continue;
      const lvl = +ch;
      const x1 = p.sx(c * sampleStepMin), x2 = p.sx((c + 1) * sampleStepMin);
      const y1 = p.sy(180 - r * binDeg), y2 = p.sy(180 - (r + 1) * binDeg);
      const e = mk('rect', {x: x1.toFixed(1), y: y1.toFixed(1), width: (x2 - x1 + 0.6).toFixed(1), height: (y2 - y1 + 0.6).toFixed(1), fill: jet(0.34 + 0.043 * lvl)}, plot);
      
      
    }
  });
  timeAxes(p, g, 'pad', [0, 60, 120, 180], ['0', '60', '120', '180']);
  axisLabelY(p, g, 'pitch angle (deg)', 'pad', 55);
  const cb = mk('rect', {x: 1692, y: p.y0, width: 9, height: p.h, fill: 'url(#jetgrad)', stroke: '#000', 'stroke-width': 1.5}, g);
  
  
  const exps = [-31, -30, -29, -28, -27, -26];
  exps.forEach((ex, i) => {
    const y = p.y0 + p.h - i * p.h / 5;
    const tk = mk('path', {d: `M1692,${y}h3M1701,${y}h-3`, stroke: '#000', 'stroke-width': 1}, g);
    
    
    const t = mk('text', {x: 1711, y: y + 8, 'font-size': 16}, g, '10');
    
    
    mk('tspan', {dy: -9, 'font-size': 11}, t, '\u2212' + Math.abs(ex));
  });
})();

// Velocity
(function () {
  const p = tsPanel(3, -400, 50);
  const {g, plot} = makePanel(p, 'velocity-panel', 'Solar Wind Velocity (GSE Frame)');
  polyline(p, plot, tsX(vswVx), vswVx, '#ff0000', 'velocity-vx-line');
  polyline(p, plot, tsX(vswVy), vswVy, '#008000', 'velocity-vy-line');
  polyline(p, plot, tsX(vswVz), vswVz, '#0000ff', 'velocity-vz-line');
  timeAxes(p, g, 'velocity', range(-400, 50, 50), range(-400, 50, 50).map(v => fmt(v, 0)));
  axisLabelY(p, g, 'Vsw(km/s)', 'velocity', 44);
  legendBox(1605, 2166, 71, 73, g, 'velocity-legend');
  legendEntry(g, 1614, 2179, '#ff0000', 'Vx', 'velocity-legend-vx');
  legendEntry(g, 1614, 2202, '#008000', 'Vy', 'velocity-legend-vy');
  legendEntry(g, 1614, 2225, '#0000ff', 'Vz', 'velocity-legend-vz');
})();

// Beta
(function () {
  const p = tsPanel(4, 0, 5);
  const {g, plot} = makePanel(p, 'beta-panel', 'Plasma Beta');
  polyline(p, plot, tsX(betaTotal), betaTotal, '#008000', 'beta-total-line');
  polyline(p, plot, tsX(betaProton), betaProton, '#0000ff', 'beta-proton-line');
  timeAxes(p, g, 'beta', range(0, 5, 1), range(0, 5, 1).map(v => fmt(v, 0)));
  const yl = axisLabelY(p, g, '', 'beta', 76);
  mk('tspan', {'font-style': 'italic', 'font-family': 'Liberation Serif, serif', fill: '#555'}, yl, '\u03b2');
  mk('tspan', {'font-size': 10, dy: 4, 'font-style': 'italic', fill: '#555'}, yl, 'p');
  mk('tspan', {dy: -4}, yl, ' and ');
  mk('tspan', {'font-style': 'italic', 'font-family': 'Liberation Serif, serif', fill: '#555'}, yl, '\u03b2');
  legendBox(1608, 2447, 68, 57, g, 'beta-legend');
  legendEntry(g, 1616, 2462, '#0000ff', '\u03b2p', 'beta-legend-proton');
  legendEntry(g, 1616, 2487, '#008000', '\u03b2', 'beta-legend-total');
})();

// Density
(function () {
  const p = tsPanel(5, 0, 30);
  const {g, plot} = makePanel(p, 'density-panel', 'Proton Number Density');
  polyline(p, plot, tsX(protonDensity), protonDensity, '#0000ff', 'density-line');
  timeAxes(p, g, 'density', range(0, 30, 5), range(0, 30, 5).map(v => fmt(v, 0)));
  axisLabelY(p, g, 'Np(#/cc)', 'density', 66);
})();

// Temperature
(function () {
  const p = tsPanel(6, 0, 0.5);
  const p2 = tsPanel(6, 0, 5);
  const {g, plot} = makePanel(p, 'temperature-panel', '');
  const tt = g.querySelector('text');
  mk('tspan', {}, tt, 'Proton Temperature and ');
  mk('tspan', {'font-style': 'italic', 'font-family': 'Liberation Serif, serif'}, tt, 'T');
  mk('tspan', {'font-size': 14, dy: 5, 'font-style': 'italic', 'font-family': 'Liberation Serif, serif'}, tt, 'e');
  mk('tspan', {dy: -5, 'font-style': 'italic', 'font-family': 'Liberation Serif, serif'}, tt, '/T');
  mk('tspan', {'font-size': 14, dy: 5, 'font-style': 'italic', 'font-family': 'Liberation Serif, serif'}, tt, 'p');
  polyline(p, plot, tsX(protonTemp), protonTemp, '#0000ff', 'proton-temperature-line');
  polyline(p2, plot, tsX(tempRatio), tempRatio, '#ff0000', 'temperature-ratio-line');
  timeAxes(p, g, 'temperature', range(0, 0.5, 0.1), range(0, 0.5, 0.1).map(v => fmt(v, 1)), true);
  range(0, 5, 1).forEach(v => {
    const y = p2.sy(v);
    const tk = mk('path', {d: `M${p2.x0 + p2.w},${y}h-8`, stroke: '#000', 'stroke-width': 1.5}, g);
    
    
    const t = mk('text', {x: 1693, y: y + 6, 'font-size': 16, fill: '#ff0000', style: 'fill:#ff0000'}, g, String(v));
    
    
  });
  const yl = axisLabelY(p, g, '', 'temperature', 58);
  mk('tspan', {}, yl, 'Tp(10');
  mk('tspan', {'font-size': 10, dy: -6}, yl, '6');
  mk('tspan', {dy: 6}, yl, 'K)');
  const cy = p.y0 + p.h / 2;
  const yr = mk('text', {x: 1724, y: cy, 'text-anchor': 'middle', 'font-size': 18, 'font-style': 'italic', 'font-family': 'Liberation Serif, serif', style: 'fill:#ff0000', transform: `rotate(-90 1724 ${cy})`}, g, 'T');
  
  
  mk('tspan', {'font-size': 11, dy: 4}, yr, 'e');
  mk('tspan', {dy: -4}, yr, '/T');
  mk('tspan', {'font-size': 11, dy: 4}, yr, 'p');
  legendBox(124, 3013, 71, 31, g, 'tp-legend');
  const l = mk('line', {x1: 131, y1: 3028, x2: 153, y2: 3028, stroke: '#0000ff', 'stroke-width': 2.5}, g);
  
  
  const t = mk('text', {x: 167, y: 3034, 'font-size': 15}, g, 'Tp');
  
  
  legendBox(1586, 3013, 90, 31, g, 'te-tp-legend');
  const l2 = mk('line', {x1: 1595, y1: 3028, x2: 1617, y2: 3028, stroke: '#ff0000', 'stroke-width': 2.5}, g);
  
  
  const t2 = mk('text', {x: 1632, y: 3033, 'font-size': 15, 'font-style': 'italic', 'font-family': 'Liberation Serif, serif'}, g, 'T');
  
  
  mk('tspan', {'font-size': 10, dy: 4}, t2, 'e');
  mk('tspan', {dy: -4}, t2, '/T');
  mk('tspan', {'font-size': 10, dy: 4}, t2, 'p');
})();
</script>
</body></html>
